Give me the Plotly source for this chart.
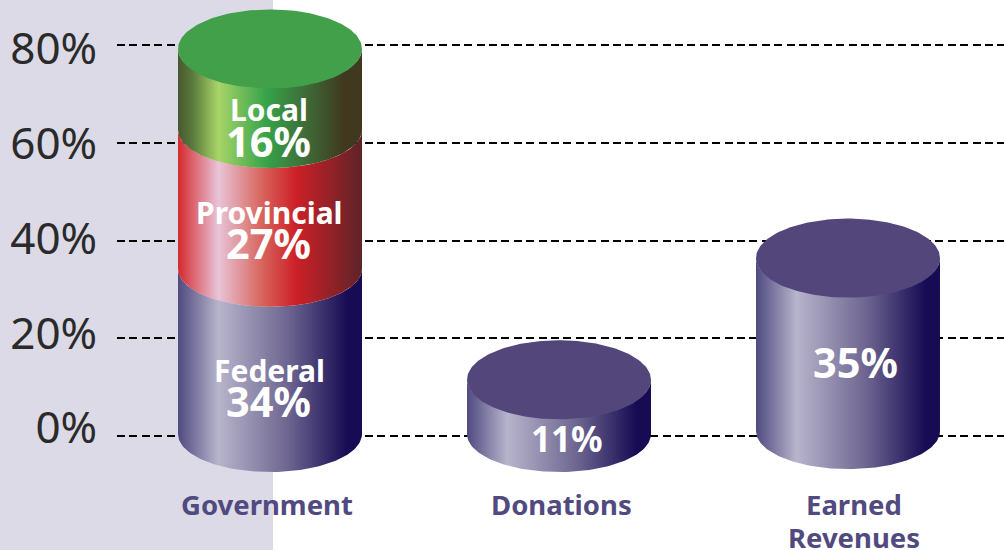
import numpy as np
import plotly.graph_objects as go

# ---- data ----
categories = ["Government", "Donations", "Earned<br>Revenues"]
government_parts = ["Federal", "Provincial", "Local"]
government_labels = ["34%", "27%", "16%"]
government_tops = [34.2, 62.6, 79.2]   # stacked tops as drawn
donations_top = [11.5]
donations_label = "11%"
earned_top = [36.4]
earned_label = "35%"
y_ticks = [0, 20, 40, 60, 80]
y_tick_labels = ["0%", "20%", "40%", "60%", "80%"]

# ---- style ----
W, H = 1004, 550
ML, MR = 117, 0
PX_Y = 4.8875          # pixels per percent
PX_X = 289.0           # pixels per category
X0_PX, Y0_PX = 270, 436
HW = 92 / PX_X         # half width of a cylinder (x units)
RY = 38 / PX_Y         # ellipse radius (y units)
LAV = "#dcdae6"
PURPLE = "#514a80"
TOP_PURPLE = "#52467a"
FONT = "Noto Sans"
FLOOR = 0.4            # cylinder bottoms sit a little above the 0% line
EARNED_FLOOR = 1.0
# tick labels in the picture are spaced slightly tighter than the grid lines
LABEL_PX_Y = 4.7375
LABEL_Y0_PX = 428

SC_BLUE = [[0, "#4f4a80"], [0.22, "#b7b4cb"], [0.6, "#6d6590"], [0.92, "#170c54"], [1, "#170c54"]]
SC_RED = [[0, "#d42a2e"], [0.22, "#e8c4d8"], [0.45, "#d8675f"], [0.64, "#cd2027"], [1, "#5e2328"]]
SC_GREEN = [[0, "#47592f"], [0.08, "#5b7a3c"], [0.22, "#a8d468"], [0.48, "#36a349"], [0.7, "#3f6a38"], [0.9, "#40391f"], [1, "#40391f"]]

fig = go.Figure()
t = np.linspace(0, np.pi, 90)


def body(xc, y_low, y_high, scale):
    xs = xc - HW * np.cos(t)
    lower = y_low - RY * np.sin(t)
    upper = y_high - RY * np.sin(t)
    x = np.r_[xs, xs[::-1], xs[0]]
    y = np.r_[lower, upper[::-1], lower[0]]
    fig.add_trace(go.Scatter(x=x, y=y, mode="lines", fill="toself", line=dict(width=0),
                             fillgradient=dict(type="horizontal", colorscale=scale),
                             hoverinfo="skip", showlegend=False))


def top(xc, y_c, color):
    a = np.linspace(0, 2 * np.pi, 180)
    fig.add_trace(go.Scatter(x=xc + HW * np.cos(a), y=y_c + 1.04 * RY * np.sin(a), mode="lines", fill="toself",
                             fillcolor=color, line=dict(width=0), hoverinfo="skip", showlegend=False))


# Government: stacked parts
base = FLOOR
for y_top, sc in zip(government_tops, [SC_BLUE, SC_RED, SC_GREEN]):
    body(0, base, y_top, sc)
    base = y_top
top(0, government_tops[-1], "#41a049")

# Donations
body(1, FLOOR, donations_top[0], SC_BLUE)
top(1, donations_top[0], TOP_PURPLE)

# Earned revenues
body(2, EARNED_FLOOR, earned_top[0], SC_BLUE)
top(2, earned_top[0], TOP_PURPLE)

# invisible trace that keeps the tick-label axis alive
fig.add_trace(go.Scatter(x=[0, 0], y=[y_ticks[0], y_ticks[-1]], yaxis="y2", mode="lines",
                         line=dict(width=0), hoverinfo="skip", showlegend=False, opacity=0))


def label(x, y, text, size, xshift=0):
    fig.add_annotation(x=x, y=y, text=text, showarrow=False, xshift=xshift, xanchor="center", yanchor="middle",
                       font=dict(family=FONT, size=size, color="white", weight=700))


# in-bar labels: name above value, placed relative to each part
lows = np.r_[0, government_tops[:-1]]
seg_mid = (lows + np.array(government_tops)) / 2
label(0, seg_mid[2] - 4.1, government_parts[2], 30, -1)
label(0, seg_mid[2] - 10.5, government_labels[2], 41.5, -2)
label(0, seg_mid[1] - 2.6, government_parts[1], 30, -1)
label(0, seg_mid[1] - 9.0, government_labels[1], 41.5, -2)
label(0, seg_mid[0] - 3.6, government_parts[0], 30, -1)
label(0, seg_mid[0] - 10.0, government_labels[0], 41.5, -2)
label(1, -0.5, donations_label, 35, 8)
label(2, earned_top[0] / 2 - 3.1, earned_label, 41.5, 7)

# category labels
for i, (cat, shift) in enumerate(zip(categories, [-3, 2, 6])):
    for j, line in enumerate(cat.split("<br>")):
        fig.add_annotation(x=i, yref="paper", y=(H - 484) / H, text=line, showarrow=False, xshift=shift,
                           yshift=-33 * j, xanchor="center", yanchor="top", align="center",
                           font=dict(family=FONT, size=27.5, color=PURPLE, weight=700))

fig.add_shape(type="rect", xref="paper", yref="paper", x0=-ML / (W - ML), x1=(273 - ML) / (W - ML), y0=0, y1=1,
              fillcolor=LAV, line_width=0, layer="below")

fig.update_layout(
    width=W, height=H, margin=dict(l=ML, r=MR, t=0, b=0),
    paper_bgcolor="white", plot_bgcolor="rgba(0,0,0,0)", showlegend=False,
    xaxis=dict(range=[(ML - X0_PX) / PX_X, (W - X0_PX) / PX_X], visible=False, fixedrange=True),
    yaxis=dict(range=[(Y0_PX - H) / PX_Y, Y0_PX / PX_Y], tickvals=y_ticks, showticklabels=False,
               showgrid=True, gridcolor="black", gridwidth=2, griddash="8px,4.4px", zeroline=False, showline=False,
               ticks="", fixedrange=True),
    yaxis2=dict(overlaying="y", side="left", anchor="x",
                range=[(LABEL_Y0_PX - H) / LABEL_PX_Y, LABEL_Y0_PX / LABEL_PX_Y],
                tickvals=y_ticks, ticktext=y_tick_labels, showgrid=False, zeroline=False, showline=False,
                ticks="outside", ticklen=10, tickcolor="rgba(0,0,0,0)",
                tickfont=dict(family=FONT, size=44, color="#2a2a2a"), fixedrange=True),
)
fig.write_html("out.html", config=dict(displayModeBar=False),
               post_script="document.body.style.margin='0';document.documentElement.style.overflow='hidden';")
